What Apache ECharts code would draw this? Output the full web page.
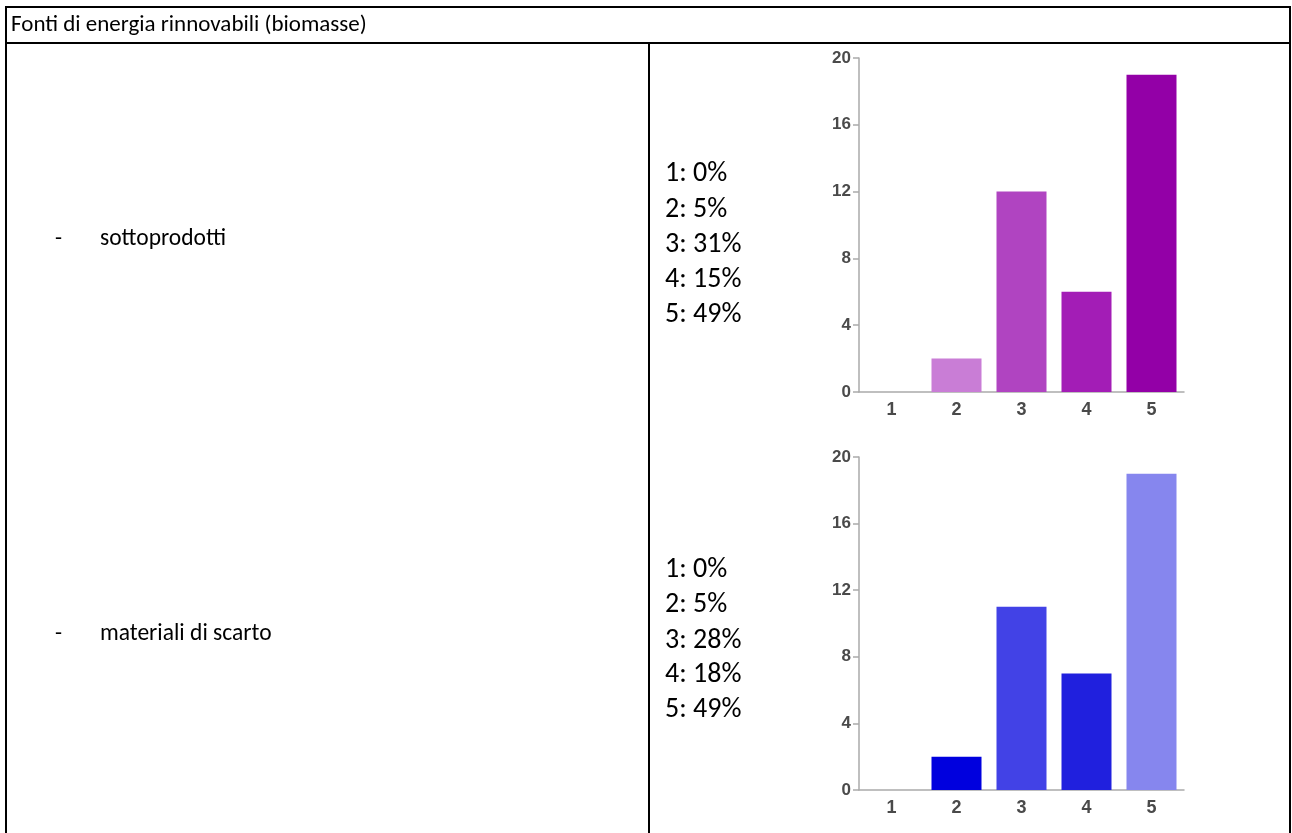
<!DOCTYPE html>
<html>
<head>
<meta charset="utf-8">
<script src="https://cdn.jsdelivr.net/npm/echarts@6/dist/echarts.min.js"></script>
<style>
html,body{margin:0;padding:0;background:#fff;}
#c{width:1292px;height:833px;}
</style>
</head>
<body>
<div id="c"></div>
<script>
// ---- data ----
var title = 'Fonti di energia rinnovabili (biomasse)';
var rowLabels = ['sottoprodotti', 'materiali di scarto'];
var categories = ['1', '2', '3', '4', '5'];
var sottoprodotti = [0, 2, 12, 6, 19];
var materialiScarto = [0, 2, 11, 7, 19];
var pctSottoprodotti = [0, 5, 31, 15, 49];
var pctScarto = [0, 5, 28, 18, 49];
var yTicks = [0, 4, 8, 12, 16, 20];
var colorsPurple = ['#c97dd6', '#c97dd6', '#b044c1', '#a31db6', '#9300a7'];
var colorsBlue = ['#0000e0', '#0000de', '#4242e6', '#2020de', '#8686ee'];

var bodyFont = 'Carlito, Lato, "Noto Sans", sans-serif';
var axisFont = '"Liberation Sans", Arial, sans-serif';

function lineEl(x1, y1, x2, y2) {
  return { type: 'line', shape: { x1: x1, y1: y1, x2: x2, y2: y2 }, style: { stroke: '#000', lineWidth: 2 } };
}
function textEl(x, y, t, size) {
  return { type: 'text', x: x, y: y, style: { text: t, fill: '#000', font: size + 'px ' + bodyFont, textVerticalAlign: 'middle', textAlign: 'left' } };
}

var graphics = [
  lineEl(5, 7, 1291, 7),
  lineEl(5, 43, 1291, 43),
  lineEl(6, 6, 6, 833),
  lineEl(1290, 6, 1290, 833),
  lineEl(649, 43, 649, 833),
  textEl(11, 25, title, 23),
  textEl(55, 239, '-', 23),
  textEl(100, 239, rowLabels[0], 23.5),
  textEl(55, 634, '-', 23),
  textEl(100, 634, rowLabels[1], 23.5)
];
var pctY1 = [174, 210, 245, 280, 315];
var pctY2 = [570, 605, 641, 675, 710];
categories.forEach(function (c, i) {
  graphics.push(textEl(665, pctY1[i], c + ': ' + pctSottoprodotti[i] + '%', 28));
  graphics.push(textEl(665, pctY2[i], c + ': ' + pctScarto[i] + '%', 28));
});

function makeX(gi) {
  return {
    type: 'category', gridIndex: gi, data: categories,
    axisLine: { lineStyle: { color: '#aaaaaa', width: 1.5 } },
    axisTick: { alignWithLabel: true, length: 5, lineStyle: { color: '#aaaaaa', width: 1.5 } },
    axisLabel: { margin: 9, color: '#4a4a4a', fontSize: 18, fontWeight: 'bold', fontFamily: axisFont },
    splitLine: { show: false }
  };
}
function makeY(gi) {
  return {
    type: 'value', gridIndex: gi, min: yTicks[0], max: yTicks[yTicks.length - 1], interval: yTicks[1] - yTicks[0],
    axisLine: { show: true, lineStyle: { color: '#aaaaaa', width: 1.5 } },
    axisTick: { show: true, length: 6, lineStyle: { color: '#aaaaaa', width: 1.5 } },
    axisLabel: { margin: 8, color: '#4a4a4a', fontSize: 17, fontWeight: 'bold', fontFamily: axisFont },
    splitLine: { show: false }
  };
}
function barData(vals, cols) {
  return vals.map(function (v, i) { return { value: v, itemStyle: { color: cols[i] } }; });
}

var chart = echarts.init(document.getElementById('c'), null, { renderer: 'canvas' });
chart.setOption({
  backgroundColor: '#fff',
  animation: false,
  grid: [
    { left: 859, top: 58, width: 325, height: 334, containLabel: false, outerBoundsMode: 'none' },
    { left: 859, top: 457, width: 325, height: 333, containLabel: false, outerBoundsMode: 'none' }
  ],
  xAxis: [makeX(0), makeX(1)],
  yAxis: [makeY(0), makeY(1)],
  series: [
    { type: 'bar', xAxisIndex: 0, yAxisIndex: 0, barWidth: 50, data: barData(sottoprodotti, colorsPurple) },
    { type: 'bar', xAxisIndex: 1, yAxisIndex: 1, barWidth: 50, data: barData(materialiScarto, colorsBlue) }
  ],
  graphic: graphics
});
</script>
</body>
</html>
